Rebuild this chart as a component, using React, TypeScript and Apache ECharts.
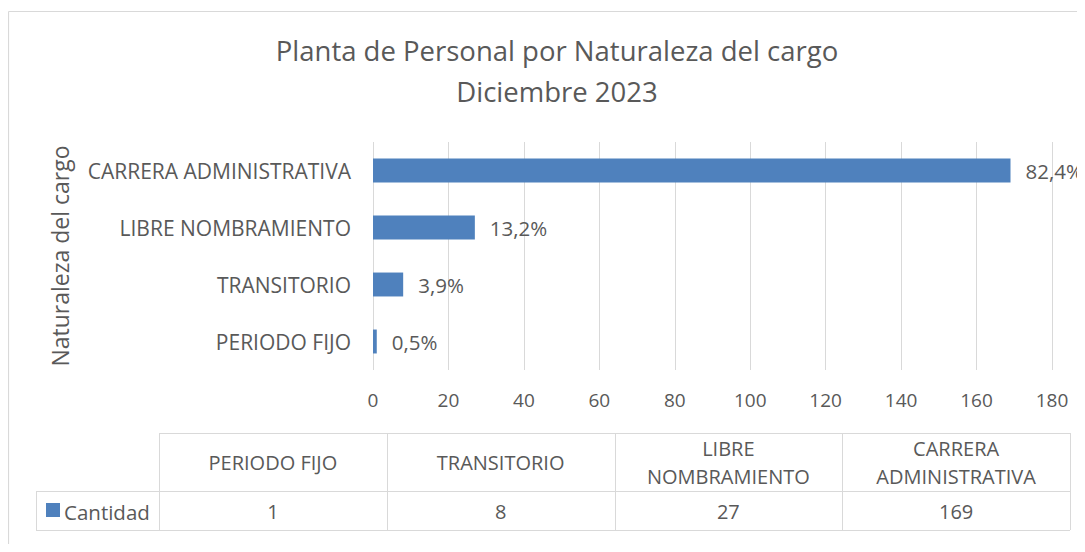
import React, { useEffect, useRef } from "react";
import * as echarts from "echarts";

const categories = ["PERIODO FIJO", "TRANSITORIO", "LIBRE NOMBRAMIENTO", "CARRERA ADMINISTRATIVA"];
const tableHeaders = ["PERIODO FIJO", "TRANSITORIO", "LIBRE\nNOMBRAMIENTO", "CARRERA\nADMINISTRATIVA"];
const values = [1, 8, 27, 169];
const seriesName = "Cantidad";
const xTicks = [0, 20, 40, 60, 80, 100, 120, 140, 160, 180];
const titleLines = ["Planta de Personal por Naturaleza del cargo", "Diciembre 2023"];
const axisName = "Naturaleza del cargo";

const FONT = "'Open Sans', Roboto, sans-serif";
const TXT = "#595959";
const LINE = "#d9d9d9";
const BAR = "#4f81bd";
const FS = 20.5;

export default function App() {
  const ref = useRef<HTMLDivElement>(null);
  useEffect(() => {
    if (!ref.current) return;
    const chart = echarts.init(ref.current, undefined, { renderer: "svg" });
    const total = values.reduce((a, b) => a + b, 0);

    const tLeft = 159;
    const tRight = 1070;
    const rowLeft = 36;
    const yTop = 433;
    const yMid = 491;
    const yBot = 530;
    const colW = (tRight - tLeft) / categories.length;
    const lineStyle = { stroke: LINE, lineWidth: 1 };
    const g: any[] = [];
    g.push({ type: "line", shape: { x1: 8.5, y1: 11.5, x2: 1085, y2: 11.5 }, style: { stroke: LINE, lineWidth: 1.2 }, silent: true });
    g.push({ type: "line", shape: { x1: 8.5, y1: 11.5, x2: 8.5, y2: 552 }, style: { stroke: LINE, lineWidth: 1.2 }, silent: true });
    g.push({ type: "line", shape: { x1: tLeft, y1: yTop + 0.5, x2: tRight, y2: yTop + 0.5 }, style: lineStyle });
    g.push({ type: "line", shape: { x1: rowLeft, y1: yMid + 0.5, x2: tRight, y2: yMid + 0.5 }, style: lineStyle });
    g.push({ type: "line", shape: { x1: rowLeft, y1: yBot + 0.5, x2: tRight, y2: yBot + 0.5 }, style: lineStyle });
    g.push({ type: "line", shape: { x1: rowLeft + 0.5, y1: yMid, x2: rowLeft + 0.5, y2: yBot }, style: lineStyle });
    for (let i = 0; i <= categories.length; i++) {
      const x = Math.round(tLeft + i * colW) + 0.5;
      g.push({ type: "line", shape: { x1: x, y1: yTop, x2: x, y2: yBot }, style: lineStyle });
    }
    categories.forEach((c, i) => {
      const cx = tLeft + (i + 0.5) * colW;
      g.push({
        type: "text",
        x: cx,
        y: (yTop + yMid) / 2,
        style: { text: tableHeaders[i], fill: TXT, font: `20px ${FONT}`, align: "center", verticalAlign: "middle", lineHeight: 28 },
      });
      g.push({
        type: "text",
        x: cx,
        y: (yMid + yBot) / 2 + 1,
        style: { text: String(values[i]), fill: TXT, font: `20px ${FONT}`, align: "center", verticalAlign: "middle" },
      });
    });
    g.push({ type: "rect", shape: { x: 46, y: 503, width: 14, height: 14 }, style: { fill: BAR } });
    g.push({ type: "text", x: 64, y: (yMid + yBot) / 2 + 1, style: { text: seriesName, fill: TXT, font: `20.5px ${FONT}`, align: "left", verticalAlign: "middle" } });

    chart.setOption({
      animation: false,
      title: {
        text: titleLines.join("\n"),
        left: 552,
        textAlign: "center",
        top: 25,
        textStyle: { color: TXT, fontFamily: FONT, fontSize: 27.5, fontWeight: "normal", lineHeight: 41 },
      },
      grid: { left: 373, right: 33, top: 142, bottom: 182, containLabel: false },
      xAxis: {
        type: "value",
        min: 0,
        max: 180,
        interval: 20,
        axisLine: { show: false },
        axisTick: { show: false },
        splitLine: { show: true, lineStyle: { color: LINE, width: 1 } },
        axisLabel: { color: TXT, fontFamily: FONT, fontSize: 19, margin: 20, formatter: (v: number) => (xTicks.includes(v) ? String(v) : "") },
      },
      yAxis: {
        type: "category",
        data: categories,
        name: axisName,
        nameLocation: "middle",
        nameRotate: 90,
        nameGap: 302,
        nameTextStyle: { color: TXT, fontFamily: FONT, fontSize: 23 },
        axisLine: { show: false },
        axisTick: { show: false },
        axisLabel: { color: TXT, fontFamily: FONT, fontSize: 21, margin: 22 },
      },
      series: [
        {
          name: seriesName,
          type: "bar",
          data: values,
          barWidth: "42%",
          itemStyle: { color: BAR },
          label: {
            show: true,
            position: "right",
            distance: 15,
            color: TXT,
            fontFamily: FONT,
            fontSize: FS,
            formatter: (p: any) => ((p.value / total) * 100).toFixed(1).replace(".", ",") + "%",
          },
        },
      ],
      graphic: g,
    });
    return () => chart.dispose();
  }, []);
  return <div ref={ref} style={{ width: 1085, height: 552, margin: -8 }} />;
}
